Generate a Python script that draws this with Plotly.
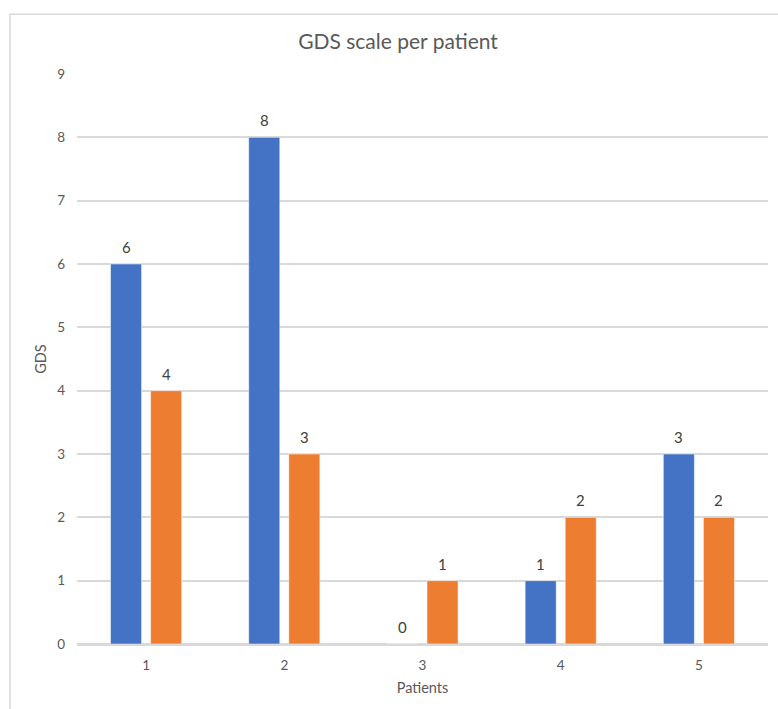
import plotly.graph_objects as go

patients = ["1", "2", "3", "4", "5"]
series_a = [6, 8, 0, 1, 3]
series_b = [4, 3, 1, 2, 2]
y_ticks = [0, 1, 2, 3, 4, 5, 6, 7, 8, 9]

BLUE = "#4472C4"
ORANGE = "#ED7D31"
TEXT = "#595959"
LABEL = "#404040"
GRID = "#D9D9D9"
FONT = "Lato, Open Sans, sans-serif"

fig = go.Figure()
for vals, col in [(series_a, BLUE), (series_b, ORANGE)]:
    fig.add_trace(go.Bar(
        x=patients, y=vals,
        marker=dict(color=col, line=dict(color="white", width=0.5)),
        showlegend=False,
    ))

# value labels above each bar; on a category axis annotations are placed by
# category index, then nudged left/right onto their bar of the group
for vals, dx in [(series_a, -20), (series_b, 20)]:
    for idx, v in enumerate(vals):
        fig.add_annotation(x=idx, y=v, xref="x", yref="y", text=str(v), showarrow=False,
                           xshift=dx, yshift=6, yanchor="bottom",
                           font=dict(size=15, color=LABEL, family=FONT))

# thin outer frame around the chart area
fig.add_shape(type="rect", xref="paper", yref="paper",
              x0=-0.097, x1=1.05, y0=-0.2, y1=1.105,
              line=dict(color=GRID, width=1.5), layer="below")

fig.update_layout(
    width=778, height=709,
    margin=dict(l=77, r=10, t=74, b=65),
    paper_bgcolor="white", plot_bgcolor="white",
    barmode="group", bargap=0.42, bargroupgap=0.225,
    font=dict(family=FONT, color=TEXT, size=13),
    title=dict(text="GDS scale per patient", x=398 / 778, xanchor="center",
               y=1 - 42 / 709, yanchor="middle",
               font=dict(size=21, color=TEXT, family=FONT)),
    xaxis=dict(type="category", categoryarray=patients,
               range=[-0.5, len(patients) - 0.5],
               title=dict(text="Patients", font=dict(size=14.5, color=TEXT), standoff=11),
               showgrid=False, showline=True, linecolor=GRID, linewidth=1.5,
               ticks="", tickfont=dict(size=13.5, color=TEXT), ticklabelstandoff=8),
    yaxis=dict(title=dict(text="GDS", font=dict(size=14.5, color=TEXT), standoff=7),
               range=[0, 9], tickvals=y_ticks, showgrid=True, gridcolor=GRID, gridwidth=1.5,
               zeroline=True, zerolinecolor=GRID, zerolinewidth=1.5,
               showline=False, ticks="", tickfont=dict(size=13.5, color=TEXT),
               ticklabelstandoff=11),
)

fig.write_html("out.html")
